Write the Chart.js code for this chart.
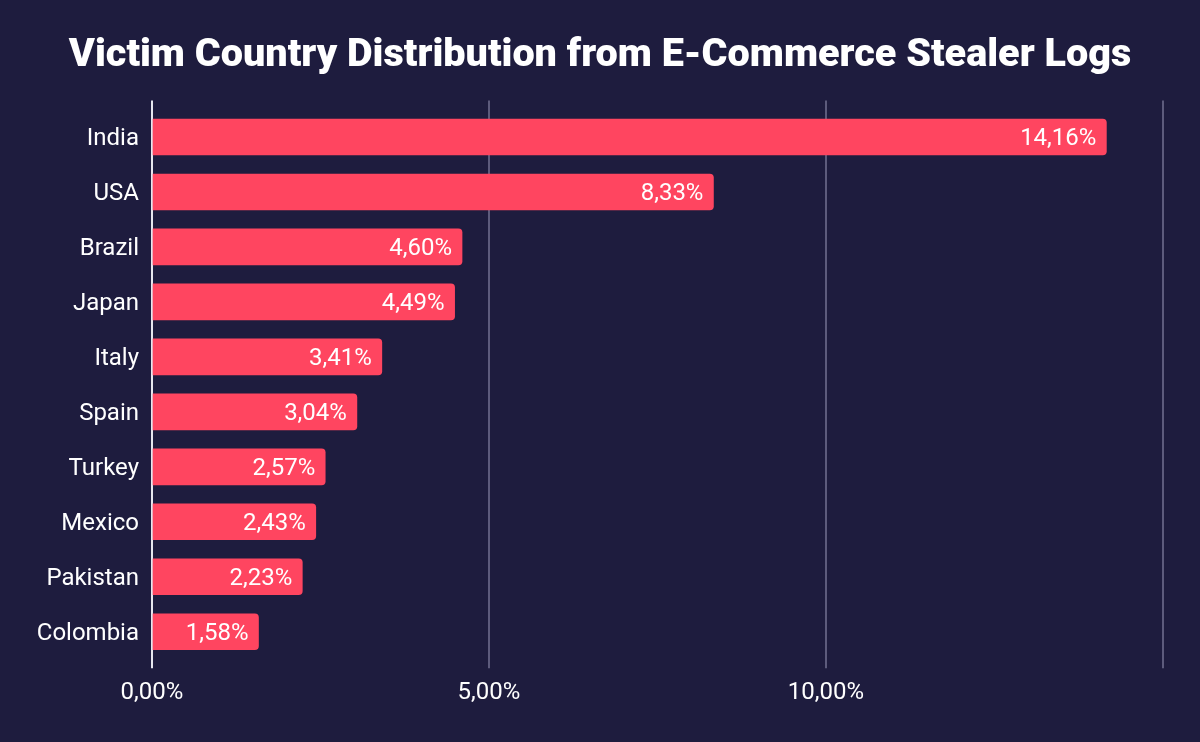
<!DOCTYPE html>
<html>
<head>
<meta charset="utf-8">
<script src="https://cdn.jsdelivr.net/npm/chart.js@4.4.1/dist/chart.umd.min.js"></script>
<style>
  html, body { margin: 0; padding: 0; background: #1e1c3e; }
  #wrap { width: 1200px; height: 742px; }
</style>
</head>
<body>
<div id="wrap"><canvas id="grafica"></canvas></div>
<script>
// Categorias (eje Y)
const paises = ["India", "USA", "Brazil", "Japan", "Italy", "Spain", "Turkey", "Mexico", "Pakistan", "Colombia"];
// Porcentaje de victimas
const porcentajes = [14.16, 8.33, 4.60, 4.49, 3.41, 3.04, 2.57, 2.43, 2.23, 1.58];
// Eje X
const ticksX = [0, 5, 10, 15];
const ticksVisibles = [0, 5, 10];

const fmt = (v) => v.toFixed(2).replace(".", ",") + "%";

// etiqueta dentro de la barra, al final
const etiquetasBarras = {
  id: "etiquetasBarras",
  afterDatasetsDraw(chart) {
    const ctx = chart.ctx;
    const meta = chart.getDatasetMeta(0);
    ctx.save();
    ctx.font = "24px Roboto";
    ctx.fillStyle = "#ffffff";
    ctx.textAlign = "right";
    ctx.textBaseline = "middle";
    meta.data.forEach((bar, i) => {
      ctx.fillText(fmt(porcentajes[i]), bar.x - 10, bar.y + 2);
    });
    ctx.restore();
  },
};

const colorGrid = (c) => (c.tick && c.tick.value === 0 ? "#e6e6ee" : "#5d5b7c");

new Chart(document.getElementById("grafica"), {
  type: "bar",
  data: {
    labels: paises,
    datasets: [
      {
        data: porcentajes,
        backgroundColor: "#ff4560",
        borderRadius: { topRight: 4, bottomRight: 4, topLeft: 0, bottomLeft: 0 },
        borderSkipped: false,
        barThickness: 36,
      },
    ],
  },
  options: {
    indexAxis: "y",
    responsive: true,
    maintainAspectRatio: false,
    animation: false,
    layout: { padding: { left: 37, right: 37, bottom: 25 } },
    plugins: {
      legend: { display: false },
      tooltip: { enabled: false },
      title: {
        display: true,
        text: "Victim Country Distribution from E-Commerce Stealer Logs",
        color: "#ffffff",
        font: { family: "Roboto", size: 39.6, weight: "900" },
        padding: { top: 32, bottom: 21 },
      },
    },
    scales: {
      x: {
        type: "linear",
        min: 0,
        max: 15,
        afterBuildTicks: (s) => { s.ticks = ticksX.map((v) => ({ value: v })); },
        grid: { color: colorGrid, lineWidth: 2, drawTicks: true, tickLength: 9, tickColor: colorGrid },
        border: { display: false },
        ticks: {
          color: "#ffffff",
          font: { family: "Roboto", size: 24 },
          padding: 10,
          callback: (v) => (ticksVisibles.includes(v) ? fmt(v) : ""),
        },
      },
      x2: {
        type: "linear",
        position: "top",
        min: 0,
        max: 15,
        afterBuildTicks: (s) => { s.ticks = ticksX.map((v) => ({ value: v })); },
        grid: { drawOnChartArea: false, drawTicks: true, tickLength: 9, lineWidth: 2, tickColor: colorGrid, color: colorGrid },
        border: { display: false },
        ticks: { display: false },
      },
      y: {
        afterFit: (s) => { s.width = 115; },
        grid: { display: false, drawTicks: false },
        border: { display: false },
        ticks: {
          color: "#ffffff",
          font: { family: "Roboto", size: 24 },
          padding: 13,
          labelOffset: 2,
        },
      },
    },
  },
  plugins: [etiquetasBarras],
});
</script>
</body>
</html>
